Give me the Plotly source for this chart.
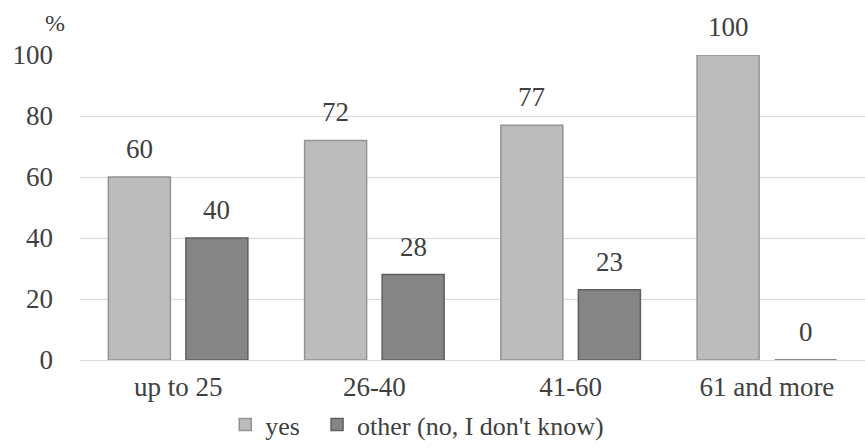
import plotly.graph_objects as go

categories = ["up to 25", "26-40", "41-60", "61 and more"]
yes_vals = [60, 72, 77, 100]
other_vals = [40, 28, 23, 0]
y_ticks = [0, 20, 40, 60, 80, 100]

font_family = "Times New Roman, Liberation Serif, serif"
txt_color = "#404040"
fsize = 27

W, H = 865, 448
ML, MR, MT, MB = 80, 0, 55, 88
BARGAP = 0.21

fig = go.Figure()
fig.add_trace(go.Bar(
    x=categories, y=yes_vals, name="yes",
    marker=dict(color="#bcbcbc", line=dict(color="#939393", width=1.5)),
    legend="legend",
))
fig.add_trace(go.Bar(
    x=categories, y=other_vals, name="other (no, I don't know)",
    marker=dict(color="#858585", line=dict(color="#5f5f5f", width=1.5)),
    legend="legend2",
))

# data labels above bars, positioned by the axes (category, value)
cat_px = (W - ML - MR) / len(categories)
offset = (1 - BARGAP) * cat_px / 4
for vals, sign in ((yes_vals, -1), (other_vals, 1)):
    for c, v in zip(categories, vals):
        fig.add_annotation(x=c, y=v, xref="x", yref="y", text=str(v),
                           showarrow=False, xshift=sign * offset, yshift=11,
                           yanchor="bottom", xanchor="center",
                           font=dict(family=font_family, size=fsize, color=txt_color))

legend_font = dict(family=font_family, size=26, color=txt_color)
fig.update_layout(
    width=W, height=H,
    margin=dict(l=ML, r=MR, t=MT, b=MB),
    plot_bgcolor="white", paper_bgcolor="white",
    barmode="group", bargap=BARGAP, bargroupgap=0.2,
    font=dict(family=font_family, size=fsize, color=txt_color),
    legend=dict(orientation="h", x=0.185, xanchor="left",
                yref="container", y=0.0, yanchor="bottom",
                font=legend_font, itemwidth=30),
    legend2=dict(orientation="h", x=0.302, xanchor="left",
                 yref="container", y=0.0, yanchor="bottom",
                 font=legend_font, itemwidth=30),
    showlegend=True,
)
fig.update_yaxes(range=[0, 100], tickvals=y_ticks, showgrid=True, gridcolor="#d9d9d9",
                 gridwidth=1.2, zeroline=True, zerolinecolor="#d9d9d9", zerolinewidth=1.2,
                 ticks="", ticklabelstandoff=26,
                 tickfont=dict(family=font_family, size=fsize, color=txt_color))
fig.update_xaxes(showline=False, ticks="", ticklabelstandoff=8,
                 tickfont=dict(family=font_family, size=fsize, color=txt_color))
fig.add_annotation(text="%", xref="paper", yref="paper", x=-0.016, y=1.105,
                   xanchor="right", yanchor="middle", showarrow=False,
                   font=dict(family=font_family, size=24, color=txt_color))

fig.write_html("out.html")
